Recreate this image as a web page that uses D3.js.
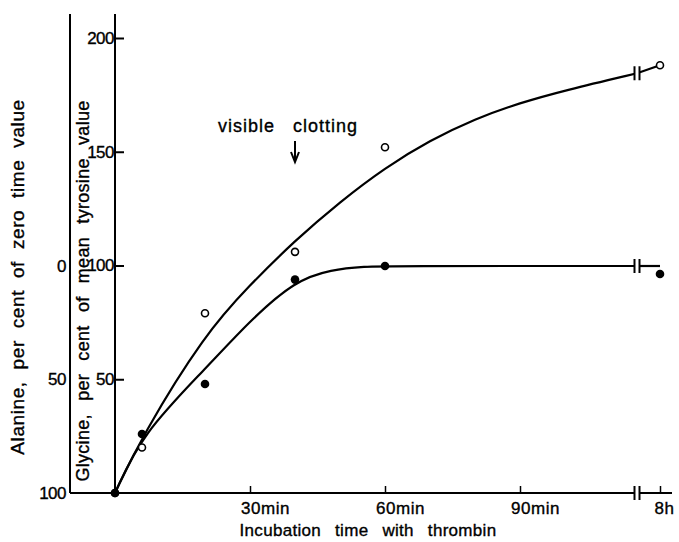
<!DOCTYPE html>
<html>
<head>
<meta charset="utf-8">
<script src="https://cdn.jsdelivr.net/npm/d3@7"></script>
<style>
  body { margin: 0; background: #fff; }
  svg text { font-family: "Liberation Sans", Arial, sans-serif; fill: #000; stroke: #000; stroke-width: 0.35px; }
</style>
</head>
<body>
<div id="viz"></div>
<script>

var width = 679,
    height = 542;

// ---- data ----
// minutes of incubation; 480 = 8h (drawn after the axis break)
var pointTime   = [0, 6, 20, 40, 60, 480];
var glycineVal  = [0, 20, 79, 106, 152, 188];     // open circles, % of mean tyrosine value
var alanineVal  = [100, 74, 52, 6, 0, 3.5];       // filled circles, % of zero time value

// hand-drawn fitted curves
var glycineFitTime = [0, 6, 20, 30, 40, 50, 60, 70, 80, 90, 100, 116, 480];
var glycineFitVal  = [0, 25, 70, 91.5, 111, 128, 143, 155, 164.5, 171.5, 177, 184.5, 188];
var alanineFitTime = [0, 6, 20, 30, 40, 48, 56, 60, 116, 480];
var alanineFitVal  = [100, 74, 45.5, 24, 6.5, 1.5, 0.2, 0, 0, 0];

var xTicks      = [30, 60, 90, 480];
var xTickLabels = ["30min", "60min", "90min", "8h"];
var glycineTicks = [50, 100, 150, 200];
var alanineTicks = [0, 50, 100];

var breakAt = 116;   // minutes where the time axis is broken

var svg = d3.select("#viz")
    .append("svg")
    .attr("width", width)
    .attr("height", height);

// polylinear time scale: linear up to the break, then squeezed to 8h
var x = d3.scaleLinear()
    .domain([0, breakAt, 480])
    .range([115, 637, 660]);

var yGly = d3.scaleLinear()            // inner axis
    .domain([0, 200])
    .range([493, 38]);

var yAla = d3.scaleLinear()            // outer axis, reversed
    .domain([0, 100])
    .range([266, 493]);

// ****************** Axes ***************************
var outerX = 70, innerX = 115, axisTop = 14, axisBottom = 493;

svg.append("line")
    .attr("x1", outerX).attr("x2", outerX)
    .attr("y1", axisTop).attr("y2", axisBottom)
    .attr("stroke", "#000").attr("stroke-width", 2);

svg.append("line")
    .attr("x1", innerX).attr("x2", innerX)
    .attr("y1", axisTop).attr("y2", axisBottom)
    .attr("stroke", "#000").attr("stroke-width", 2);

svg.append("line")
    .attr("x1", outerX).attr("x2", 672)
    .attr("y1", axisBottom).attr("y2", axisBottom)
    .attr("stroke", "#000").attr("stroke-width", 2);

// glycine axis: ticks to the right, labels to the left of the line
var gGly = svg.append("g")
    .attr("transform", "translate(" + innerX + ",0)")
    .call(d3.axisRight(yGly).tickValues(glycineTicks).tickSize(9).tickFormat(d3.format("d")));
gGly.select(".domain").remove();
gGly.selectAll("line").attr("stroke-width", 2);
gGly.selectAll("text")
    .attr("x", -1)
    .attr("text-anchor", "end")
    .style("font-size", "17px")
    .style("letter-spacing", "-0.5px");

// alanine axis (outer)
var gAla = svg.append("g")
    .attr("transform", "translate(" + outerX + ",0)")
    .call(d3.axisLeft(yAla).tickValues(alanineTicks).tickSize(0).tickPadding(4).tickFormat(d3.format("d")));
gAla.select(".domain").remove();
gAla.selectAll("text")
    .style("font-size", "17px")
    .style("letter-spacing", "-0.5px");

// time axis: ticks point up, labels start just left of the tick
var gX = svg.append("g")
    .attr("transform", "translate(0," + axisBottom + ")")
    .call(d3.axisBottom(x).tickValues(xTicks).tickSize(-7).tickPadding(9)
      .tickFormat(function(d, i) { return xTickLabels[i]; }));
gX.select(".domain").remove();
gX.selectAll("line").attr("stroke-width", 1.5);
gX.selectAll("text")
    .attr("dx", function(d) { return d == 480 ? 4 : 15; })
    .style("font-size", "17px")
    .style("letter-spacing", "0.5px");

// ****************** Curves ***************************
var line = d3.line().curve(d3.curveBasis);

function fitPath(times, vals, yScale) {
  var before = [], after = [];
  times.forEach(function(t, i) {
    var p = [x(t), yScale(vals[i])];
    if (t <= breakAt) before.push(p);
    if (t >= breakAt) after.push(p);
  });
  svg.append("path")
      .attr("d", line(before))
      .attr("fill", "none").attr("stroke", "#000").attr("stroke-width", 2.2);
  svg.append("path")
      .attr("d", d3.line()(after))
      .attr("fill", "none").attr("stroke", "#000").attr("stroke-width", 2.2);
}

fitPath(glycineFitTime, glycineFitVal, yGly);
fitPath(alanineFitTime, alanineFitVal, yAla);

// break marks on both curves and on the time axis
var breakYs = [
  yGly(glycineFitVal[glycineFitTime.indexOf(breakAt)]),
  yAla(alanineFitVal[alanineFitTime.indexOf(breakAt)]),
  axisBottom
];
breakYs.forEach(function(by) {
  svg.append("rect")
      .attr("x", x(breakAt) - 2).attr("y", by - 3)
      .attr("width", 4).attr("height", 6)
      .attr("fill", "#fff");
  [-2.5, 2.5].forEach(function(o) {
    svg.append("line")
        .attr("x1", x(breakAt) + o).attr("x2", x(breakAt) + o)
        .attr("y1", by - 7).attr("y2", by + 7)
        .attr("stroke", "#000").attr("stroke-width", 2);
  });
});

// ****************** Points ***************************
svg.append("g").selectAll("circle")
    .data(pointTime)
    .enter().append("circle")
      .attr("cx", function(d) { return x(d); })
      .attr("cy", function(d, i) { return yGly(glycineVal[i]); })
      .attr("r", 3.5)
      .attr("fill", "#fff")
      .attr("stroke", "#000")
      .attr("stroke-width", 1.6);

svg.append("g").selectAll("circle")
    .data(pointTime)
    .enter().append("circle")
      .attr("cx", function(d) { return x(d); })
      .attr("cy", function(d, i) { return yAla(alanineVal[i]); })
      .attr("r", 4.3)
      .attr("fill", "#000");

// ****************** Annotation ***************************
svg.append("text")
    .attr("x", 288).attr("y", 132)
    .attr("text-anchor", "middle")
    .style("font-size", "18px")
    .style("word-spacing", "12px")
    .style("letter-spacing", "1px")
    .text("visible clotting");

var ax = x(40);
svg.append("line")
    .attr("x1", ax).attr("x2", ax)
    .attr("y1", 141).attr("y2", 160)
    .attr("stroke", "#000").attr("stroke-width", 2);
svg.append("path")
    .attr("d", "M" + (ax - 4) + ",152 L" + ax + ",162 L" + (ax + 4) + ",152")
    .attr("fill", "none").attr("stroke", "#000").attr("stroke-width", 2);

// ****************** Axis titles ***************************
svg.append("text")
    .attr("transform", "translate(24,277) rotate(-90)")
    .attr("text-anchor", "middle")
    .style("font-size", "19px")
    .style("word-spacing", "6px")
    .style("letter-spacing", "0.6px")
    .text("Alanine, per cent of zero time value");

svg.append("text")
    .attr("transform", "translate(89,291) rotate(-90)")
    .attr("text-anchor", "middle")
    .style("font-size", "18px")
    .style("word-spacing", "8px")
    .style("letter-spacing", "0.3px")
    .text("Glycine, per cent of mean tyrosine value");

svg.append("text")
    .attr("x", 368).attr("y", 536)
    .attr("text-anchor", "middle")
    .style("font-size", "17px")
    .style("word-spacing", "9px")
    .style("letter-spacing", "0.3px")
    .text("Incubation time with thrombin");

</script>
</body>
</html>
